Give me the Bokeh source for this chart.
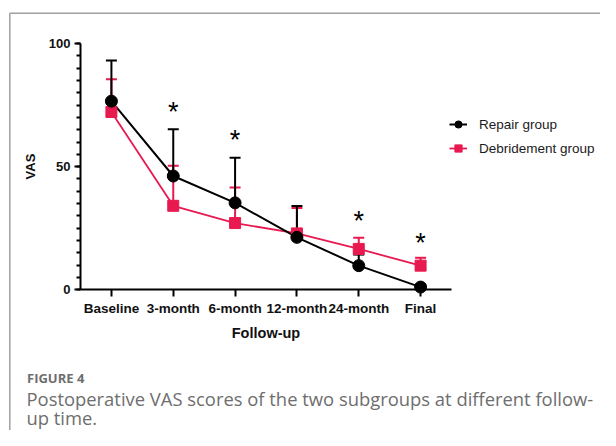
from bokeh.plotting import figure
from bokeh.models import (ColumnDataSource, Range1d, FixedTicker, Whisker, TeeHead,
                          Legend, LegendItem, Label)
from bokeh.core.properties import value
from bokeh.embed import file_html
from bokeh.resources import INLINE

# ---- data ----
categories = ["Baseline", "3-month", "6-month", "12-month", "24-month", "Final"]
repair_mean = [76.6, 46.2, 35.3, 21.3, 9.8, 1.1]
repair_sd = [16.5, 19.0, 18.3, 12.7, 4.5, 1.0]
debr_mean = [72.2, 34.1, 27.1, 22.9, 16.6, 9.8]
debr_sd = [13.3, 16.3, 14.4, 10.3, 4.5, 3.2]
star_idx = [1, 2, 4, 5]
star_y = [73.9, 62.6, 29.7, 20.7]
y_ticks = [0, 50, 100]
y_min, y_max = 0, 100

RED = "#E8194F"
BLACK = "#000000"
AX_FONT = "Liberation Sans"

W, H = 600, 430
# plot-area placement on the canvas (pixels)
AX_L, AX_R, AX_T, AX_B = 80.0, 451.0, 43.0, 289.3
n = len(categories)
xs = (AX_R - AX_L) / n                # px per category
ys = (AX_B - AX_T) / (y_max - y_min)  # px per VAS unit
x0 = -0.5 - AX_L / xs
x1 = n - 0.5 + (W - AX_R) / xs
y1 = y_max + AX_T / ys
y0 = y_min - (H - AX_B) / ys

x = list(range(n))

p = figure(width=W, height=H, output_backend="svg", toolbar_location=None,
           x_range=Range1d(x0, x1), y_range=Range1d(y0, y1),
           min_border=0, min_border_left=0, min_border_right=0,
           min_border_top=0, min_border_bottom=0)
p.outline_line_color = None
p.xgrid.visible = False
p.ygrid.visible = False
p.background_fill_color = "white"
p.border_fill_color = "white"

# surrounding panel border (top and left edges visible), canvas px 9.3 / 12.7
bx = x0 + 9.3 / xs
by = y1 - 12.7 / ys
p.segment(x0=[bx, bx], y0=[by, by], x1=[x1 + 1, bx], y1=[by, y0 - 1],
          line_color="#a0a0a0", line_width=1.5)

# axes
xa = p.xaxis[0]
xa.fixed_location = 0
xa.bounds = (-0.5, n - 0.5)
xa.ticker = FixedTicker(ticks=x)
xa.major_label_overrides = {i: c for i, c in enumerate(categories)}
xa.axis_line_width = 2
xa.major_tick_line_width = 2
xa.major_tick_out = 7
xa.major_tick_in = 0
xa.minor_tick_line_color = None
xa.major_label_text_font = AX_FONT
xa.major_label_text_font_style = "bold"
xa.major_label_text_font_size = "13.5px"
xa.major_label_text_color = "#111111"
xa.major_label_standoff = 4
xa.axis_label = "Follow-up"
xa.axis_label_text_font = AX_FONT
xa.axis_label_text_font_style = "bold"
xa.axis_label_text_font_size = "14.5px"
xa.axis_label_text_color = "#111111"
xa.axis_label_standoff = 6

ya = p.yaxis[0]
ya.fixed_location = -0.5
ya.bounds = (y_min, y_max)
ya.ticker = FixedTicker(ticks=y_ticks, minor_ticks=list(range(0, 101, 5)))
ya.axis_line_width = 2
ya.major_tick_line_width = 2
ya.minor_tick_line_width = 2
ya.major_tick_out = 6
ya.major_tick_in = 0
ya.minor_tick_out = 4
ya.minor_tick_in = 0
ya.major_label_text_font = AX_FONT
ya.major_label_text_font_style = "bold"
ya.major_label_text_font_size = "13px"
ya.major_label_text_color = "#111111"
ya.major_label_standoff = 4
ya.axis_label = "VAS"
ya.axis_label_text_font = AX_FONT
ya.axis_label_text_font_style = "bold"
ya.axis_label_text_font_size = "13px"
ya.axis_label_text_color = "#111111"
ya.axis_label_standoff = 8

# sources
rs = ColumnDataSource(dict(x=x, y=repair_mean,
                           up=[m + s for m, s in zip(repair_mean, repair_sd)]))
ds = ColumnDataSource(dict(x=x, y=debr_mean,
                           up=[m + s for m, s in zip(debr_mean, debr_sd)]))

# error bars (upper only)
for src, col in ((ds, RED), (rs, BLACK)):
    w = Whisker(source=src, base="x", lower="y", upper="up", dimension="height",
                line_color=col, line_width=2, lower_head=None,
                upper_head=TeeHead(size=11, line_color=col, line_width=2),
                level="underlay")
    p.add_layout(w)

rl = p.line("x", "y", source=ds, line_color=RED, line_width=1.8)
bl = p.line("x", "y", source=rs, line_color=BLACK, line_width=2)
rm = p.scatter("x", "y", source=ds, marker="square", size=11, fill_color=RED, line_color=RED)
bm = p.scatter("x", "y", source=rs, marker="circle", size=12, fill_color=BLACK, line_color=BLACK)

# significance stars
ss = ColumnDataSource(dict(x=star_idx, y=star_y, t=["*"] * len(star_idx)))
p.text("x", "y", text="t", source=ss, text_align="center", text_baseline="alphabetic",
       text_font=value(AX_FONT), text_font_size="27px", y_offset=4, text_color=BLACK)

legend = Legend(items=[LegendItem(label="Repair group", renderers=[bl, bm]),
                       LegendItem(label="Debridement group", renderers=[rl, rm])],
                location=(449, H - 158), glyph_width=18, glyph_height=20, label_height=20,
                label_standoff=12, spacing=4, padding=10, margin=0,
                border_line_color=None, background_fill_alpha=0,
                label_text_font=AX_FONT, label_text_font_size="13.5px",
                label_text_color="#1a1a1a")
p.add_layout(legend, "center")

# caption
CAP = "Open Sans"
p.add_layout(Label(x=26.5, y=H - 377, x_units="screen", y_units="screen", text="FIGURE 4",
                   text_font=CAP, text_font_size="13px", text_font_style="bold",
                   text_color="#6e6e6e", text_baseline="alphabetic"))
p.add_layout(Label(x=26, y=H - 398, x_units="screen", y_units="screen",
                   text="Postoperative VAS scores of the two subgroups at different follow-",
                   text_font=CAP, text_font_size="18.4px", text_color="#6e6e6e",
                   text_baseline="alphabetic"))
p.add_layout(Label(x=26, y=H - 417, x_units="screen", y_units="screen",
                   text="up time.", text_font=CAP, text_font_size="18.4px",
                   text_color="#6e6e6e", text_baseline="alphabetic"))

open("out.html", "w").write(file_html(p, INLINE))
